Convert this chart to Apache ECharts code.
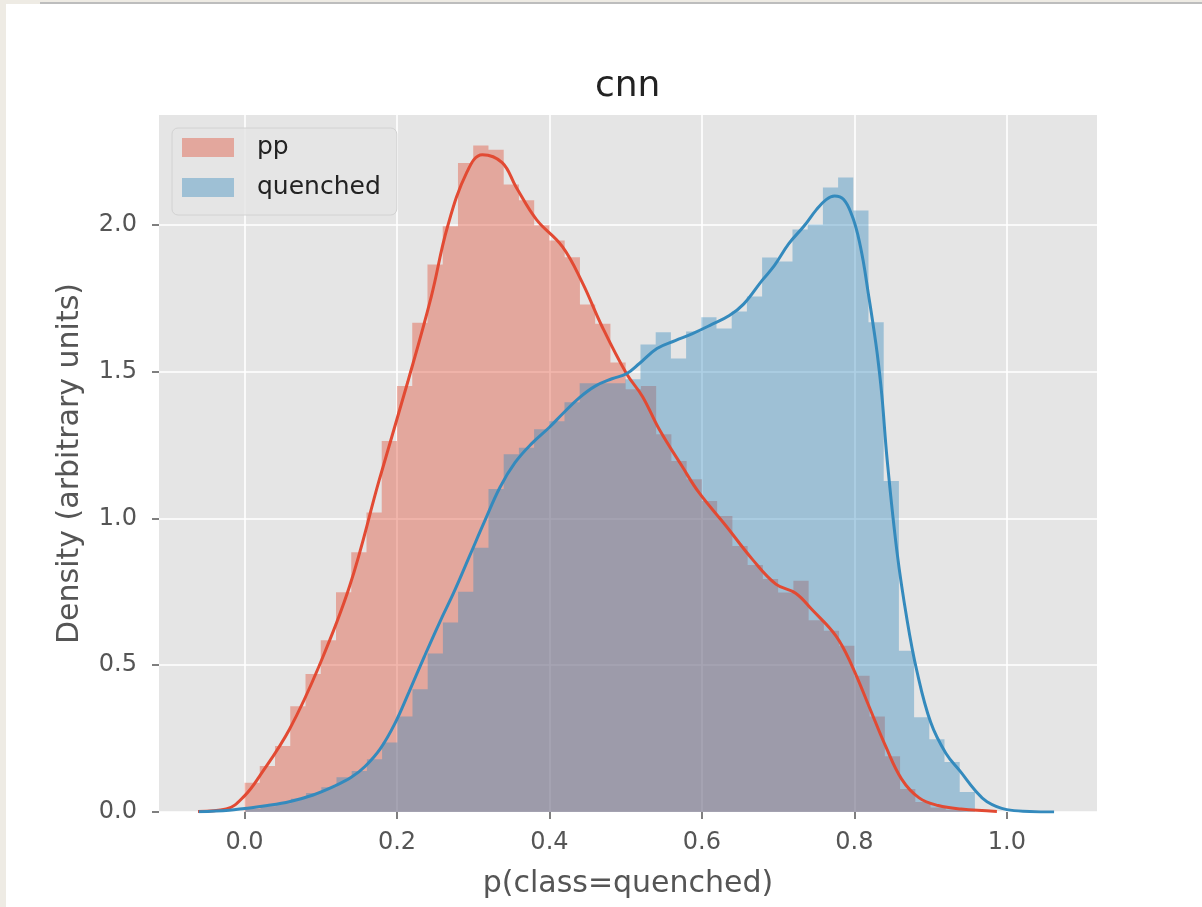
<!DOCTYPE html>
<html>
<head>
<meta charset="utf-8">
<script src="https://cdn.jsdelivr.net/npm/echarts@6/dist/echarts.min.js"></script>
<style>
  html, body { margin: 0; padding: 0; background: #ffffff; }
  #chart { position: absolute; left: 0; top: 0; width: 1202px; height: 907px; }
  .deco { position: absolute; pointer-events: none; }
</style>
</head>
<body>
<div id="chart"></div>
<div class="deco" style="left:0;top:0;width:1202px;height:4px;background:#eeebe4;"></div>
<div class="deco" style="left:40px;top:2px;width:1162px;height:2px;background:#bdbdbd;"></div>
<div class="deco" style="left:0;top:0;width:6px;height:907px;background:#eeebe4;"></div>
<script>
// ---- data ----
const titleText = 'cnn';
const xLabel = 'p(class=quenched)';
const yLabel = 'Density (arbitrary units)';
const seriesNames = ['pp', 'quenched'];
const xTicks = [0.0, 0.2, 0.4, 0.6, 0.8, 1.0];
const yTicks = [0.0, 0.5, 1.0, 1.5, 2.0];
const xRange = [-0.1122, 1.1183];
const yRange = [0, 2.373];

// histogram bins (density)
const ppBinStart = 0.0;
const ppBinWidth = 0.02;
const ppHist = [0.10, 0.157, 0.225, 0.36, 0.47, 0.585, 0.748, 0.884, 1.02, 1.263,
  1.45, 1.666, 1.864, 1.994, 2.21, 2.269, 2.255, 2.136, 2.083, 1.998,
  1.946, 1.889, 1.728, 1.662, 1.53, 1.439, 1.45, 1.286, 1.195, 1.133,
  1.059, 1.008, 0.906, 0.841, 0.793, 0.747, 0.787, 0.653, 0.617, 0.566,
  0.464, 0.325, 0.19, 0.078, 0.034, 0.015, 0.008, 0.004];
const qBinStart = 0.001;
const qBinWidth = 0.01994;
const qHist = [0.01, 0.02, 0.03, 0.045, 0.065, 0.084, 0.118, 0.14, 0.18, 0.237,
  0.325, 0.418, 0.54, 0.645, 0.75, 0.9, 1.1, 1.218, 1.24, 1.303,
  1.33, 1.395, 1.46, 1.46, 1.46, 1.473, 1.592, 1.633, 1.544, 1.636,
  1.684, 1.646, 1.704, 1.755, 1.888, 1.874, 1.983, 2.0, 2.126, 2.16,
  2.048, 1.667, 1.127, 0.549, 0.323, 0.248, 0.17, 0.068];

// KDE curves
const ppKdeX = [-0.061, -0.024, 0.0, 0.020, 0.059, 0.098, 0.138, 0.177, 0.214, 0.245,
  0.266, 0.292, 0.312, 0.338, 0.356, 0.383, 0.417, 0.443, 0.469, 0.501,
  0.522, 0.544, 0.574, 0.596, 0.632, 0.666, 0.697, 0.723, 0.744, 0.776,
  0.797, 0.819, 0.841, 0.862, 0.885, 0.910, 0.940, 0.987];
const ppKdeY = [0.002, 0.010, 0.055, 0.123, 0.282, 0.498, 0.770, 1.133, 1.463, 1.755,
  1.990, 2.180, 2.238, 2.211, 2.129, 2.017, 1.925, 1.803, 1.653, 1.493,
  1.415, 1.303, 1.177, 1.088, 0.973, 0.861, 0.776, 0.745, 0.690, 0.599,
  0.497, 0.361, 0.224, 0.112, 0.048, 0.022, 0.010, 0.002];
const qKdeX = [-0.060, -0.020, 0.000, 0.030, 0.060, 0.090, 0.118, 0.140, 0.158, 0.178,
  0.197, 0.216, 0.236, 0.256, 0.275, 0.295, 0.315, 0.335, 0.355, 0.377,
  0.400, 0.417, 0.439, 0.460, 0.482, 0.501, 0.518, 0.541, 0.565, 0.587,
  0.613, 0.636, 0.655, 0.679, 0.695, 0.714, 0.734, 0.750, 0.763, 0.774,
  0.786, 0.797, 0.805, 0.812, 0.818, 0.824, 0.830, 0.836, 0.843, 0.856,
  0.869, 0.882, 0.900, 0.920, 0.940, 0.958, 0.974, 1.000, 1.030, 1.062];
const qKdeY = [0.001, 0.006, 0.012, 0.022, 0.036, 0.058, 0.088, 0.118, 0.155, 0.215,
  0.300, 0.410, 0.530, 0.646, 0.750, 0.870, 0.990, 1.105, 1.190, 1.255,
  1.310, 1.355, 1.410, 1.450, 1.475, 1.492, 1.527, 1.578, 1.605, 1.628,
  1.660, 1.690, 1.730, 1.810, 1.860, 1.935, 1.995, 2.050, 2.085, 2.097,
  2.085, 2.030, 1.960, 1.870, 1.770, 1.670, 1.560, 1.420, 1.200, 0.884,
  0.656, 0.480, 0.306, 0.200, 0.135, 0.075, 0.035, 0.008, 0.002, 0.000];

// ---- build ----
const RED = '#E24A33';
const BLUE = '#348ABD';
const FONT = 'DejaVu Sans';

function stepData(start, width, h) {
  const d = [];
  for (let k = 0; k < h.length; k++) d.push([start + k * width, h[k]]);
  d.push([start + h.length * width, h[h.length - 1]]);
  return d;
}
function zip(xs, ys) { return xs.map((x, i) => [x, ys[i]]); }

const chart = echarts.init(document.getElementById('chart'), null, { renderer: 'canvas' });
const option = {
  animation: false,
  backgroundColor: '#ffffff',
  title: {
    text: titleText,
    left: 590,
    top: 64,
    textStyle: { fontFamily: FONT, fontSize: 36, fontWeight: 'normal', color: '#222222', lineHeight: 36 }
  },
  legend: {
    orient: 'vertical',
    left: 172,
    top: 128,
    padding: [7, 16, 15, 10],
    itemWidth: 52,
    itemHeight: 19,
    itemGap: 15,
    icon: 'rect',
    backgroundColor: 'rgba(229,229,229,0.8)',
    borderColor: '#d2d2d2',
    borderWidth: 1,
    borderRadius: 6,
    textStyle: { fontFamily: FONT, fontSize: 25, color: '#222222', lineHeight: 25, padding: [0, 0, 0, 18] },
    data: [
      { name: seriesNames[0], itemStyle: { color: 'rgba(226,74,51,0.4)' } },
      { name: seriesNames[1], itemStyle: { color: 'rgba(52,138,189,0.4)' } }
    ]
  },
  grid: {
    left: 159, right: 105, top: 115, bottom: 95,
    show: true, backgroundColor: '#E5E5E5', borderWidth: 0
  },
  xAxis: {
    type: 'value',
    min: xRange[0], max: xRange[1],
    axisLine: { show: false, onZero: false },
    axisTick: { show: true, length: 7, lineStyle: { color: '#555555', width: 1.5 }, customValues: xTicks },
    axisLabel: { customValues: xTicks, formatter: v => v.toFixed(1), color: '#555555', fontSize: 24, fontFamily: FONT, margin: 19 },
    splitLine: { show: true, lineStyle: { color: '#ffffff', width: 1.6 } },
    name: xLabel, nameLocation: 'middle', nameGap: 57,
    nameTextStyle: { fontFamily: FONT, fontSize: 30, color: '#555555' }
  },
  yAxis: {
    type: 'value',
    min: yRange[0], max: yRange[1],
    axisLine: { show: false, onZero: false },
    axisTick: { show: true, length: 7, lineStyle: { color: '#555555', width: 1.5 }, customValues: yTicks },
    axisLabel: { customValues: yTicks, formatter: v => v.toFixed(1), color: '#555555', fontSize: 24, fontFamily: FONT, margin: 22 },
    splitLine: { show: true, lineStyle: { color: '#ffffff', width: 1.6 } },
    name: yLabel, nameLocation: 'middle', nameGap: 74,
    nameTextStyle: { fontFamily: FONT, fontSize: 30, color: '#555555' }
  },
  series: [
    {
      name: seriesNames[0], type: 'line', step: 'end', z: 1,
      data: stepData(ppBinStart, ppBinWidth, ppHist),
      symbol: 'none', silent: true,
      itemStyle: { color: 'rgba(226,74,51,0.4)' },
      lineStyle: { width: 0, opacity: 0 },
      areaStyle: { color: RED, opacity: 0.4 }
    },
    {
      name: seriesNames[1], type: 'line', step: 'end', z: 2,
      data: stepData(qBinStart, qBinWidth, qHist),
      symbol: 'none', silent: true,
      itemStyle: { color: 'rgba(52,138,189,0.4)' },
      lineStyle: { width: 0, opacity: 0 },
      areaStyle: { color: BLUE, opacity: 0.4 }
    },
    {
      name: 'pp kde', type: 'line', z: 3, smooth: 0.4,
      data: zip(ppKdeX, ppKdeY), symbol: 'none', silent: true,
      lineStyle: { color: RED, width: 3 }
    },
    {
      name: 'quenched kde', type: 'line', z: 4, smooth: 0.4,
      data: zip(qKdeX, qKdeY), symbol: 'none', silent: true,
      lineStyle: { color: BLUE, width: 3 }
    }
  ]
};
chart.setOption(option);
</script>
</body>
</html>
